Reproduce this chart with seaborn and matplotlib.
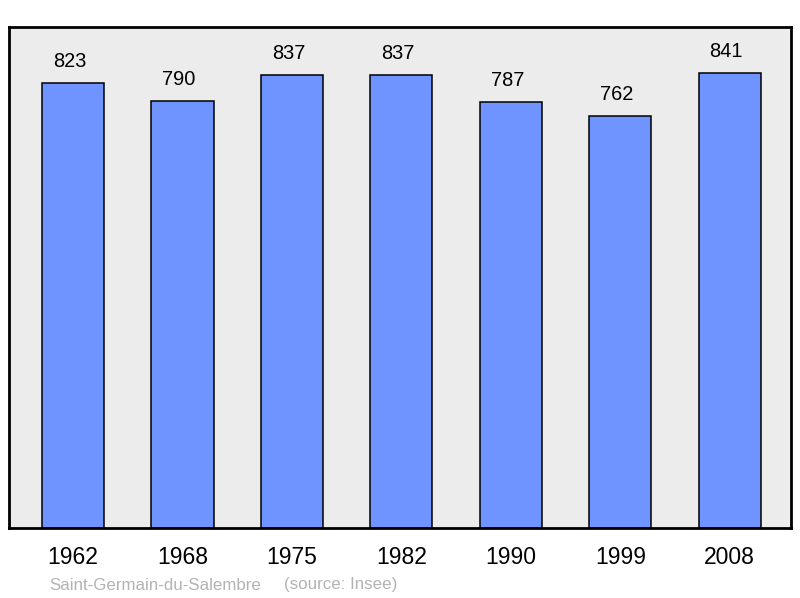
import matplotlib
matplotlib.use("Agg")
import matplotlib.pyplot as plt
import seaborn as sns
import pandas as pd

years = ["1962", "1968", "1975", "1982", "1990", "1999", "2008"]
population = [823, 790, 837, 837, 787, 762, 841]
caption_place = "Saint-Germain-du-Salembre"
caption_source = "(source: Insee)"

sns.set_theme(style="white")
plt.rcParams['font.family'] = ['Liberation Sans', 'DejaVu Sans']

df = pd.DataFrame({"year": years, "pop": population})

fig = plt.figure(figsize=(8, 5.98), dpi=100)
ax = fig.add_axes([9/800, 70/598, 782/800, 501/598])
ax.set_facecolor("#ececec")

sns.barplot(data=df, x="year", y="pop", color="#7094ff", saturation=1,
            edgecolor="black", linewidth=1.1, width=0.567, ax=ax)

ax.set_xlim(-0.585, 6.56)
ax.set_ylim(0, 926)
ax.set_xlabel("")
ax.set_ylabel("")
ax.set_yticks([])
ax.tick_params(axis="x", length=0, pad=13, labelsize=16.5, colors="black")

for c in ax.containers:
    texts = ax.bar_label(c, labels=[str(v) for v in population], padding=8.5,
                         fontsize=14.4, color="black")
    for t in texts:
        t.xyann = (-3.5 * 72 / 100, 8.5)

for s in ax.spines.values():
    s.set_visible(True)
    s.set_color("black")
    s.set_linewidth(2)

fig.text(49/800, 1 - 585/598, caption_place, fontsize=12.2, color="#b3b3b3",
         va="center", ha="left")
fig.text(284/800, 1 - 585/598, caption_source, fontsize=12.2, color="#b3b3b3",
         va="center", ha="left")

fig.savefig("out.png", dpi=100, facecolor="white")
